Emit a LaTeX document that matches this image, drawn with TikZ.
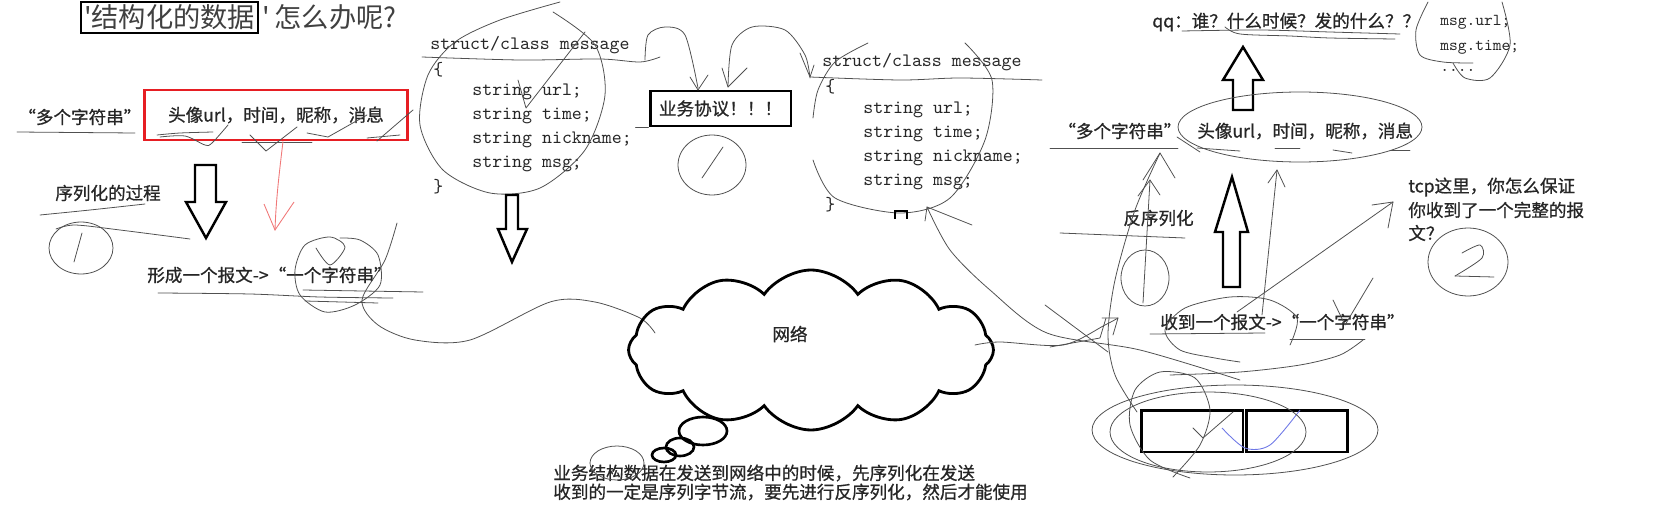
\documentclass[tikz,border=0pt]{standalone}
\usepackage{fontspec}
\newfontfamily\cjk{Noto Sans CJK SC}[FakeBold=0.8]
\newfontfamily\cjktitle{Noto Sans CJK SC}
\usetikzlibrary{arrows.meta,positioning,shapes.symbols}
\definecolor{boxred}{RGB}{230,30,35}
\definecolor{pencil}{RGB}{80,80,80}
\definecolor{redpen}{RGB}{240,120,120}
\definecolor{bluepen}{RGB}{110,120,230}

\tikzset{
  word/.style={inner sep=0pt,anchor=west,text=black!85,font=\cjk\fontsize{10}{12}\selectfont},
  code/.style={inner sep=0pt,anchor=west,text=black!85,font=\ttfamily\fontsize{10.8}{13}\selectfont\addfontfeature{FakeBold=0.6}},
  pen/.style={pencil,line width=0.45pt,line cap=round,line join=round},
  fatbox/.style={draw,line width=1.7pt,inner sep=0pt},
  fatarrow/.style={draw,line width=1.4pt,line join=miter,fill=white},
}

\begin{document}
\begin{tikzpicture}[x=0.02cm,y=-0.02cm]
\useasboundingbox (0,0) rectangle (1674,510);

% title
\node[fatbox,line width=1.5pt,minimum width=3.54cm,minimum height=0.62cm,font=\cjktitle\fontsize{15.5}{18}\selectfont,text=black!75] (title) at (169.5,17.5) {'结构化的数据};
\node[inner sep=0pt,anchor=west,font=\cjktitle\fontsize{15.5}{18}\selectfont,text=black!75] (titletail) at ([xshift=0.06cm]title.east) {'\,怎么办呢?};

% sender side
\node[word] (multistr) at (18,117) {“多个字符串”};
\draw[pen] (17,132) -- (135,133);
\node[draw=boxred,line width=1.7pt,inner sep=0pt,minimum width=5.28cm,minimum height=1cm,text=black!85,font=\cjk\fontsize{10}{12}\selectfont] (fields) at (276,115) {头像url，时间，昵称，消息};
\draw[pen] plot[smooth] coordinates {(157,135) (180,133) (213,132)};
\draw[pen] plot[smooth] coordinates {(160,137) (185,136) (205,145) (212,143) (228,125)};
\draw[pen] (242,142) -- (312,142);
\draw[pen] (250,135) -- (266,151) -- (297,127);
\draw[pen] (307,133) -- (328,137) -- (367,115);
\draw[pen] (367,138) -- (400,135);
\draw[pen] (377,141) -- (413,110);
\coordinate (redtip) at (275,230);
\draw[redpen,line width=0.5pt] ([xshift=0.14cm]fields.south) .. controls (279,175) and (276,200) .. (redtip);
\draw[redpen,line width=0.5pt] (264,204) -- (redtip) -- (294,202);

\draw[fatarrow] (195,165) -- (216,165) -- (216,202) -- (226,202) -- (206,238) -- (186,202) -- (195,202) -- cycle;

\node[word] (serial) at (55,193) {序列化的过程};
\draw[pen] plot[smooth] coordinates {(40,215) (90,210) (145,204)};
\draw[pen] (81,248) ellipse [x radius=0.64cm, y radius=0.52cm];
\draw[pen] (74,262) -- (82,233);
\draw[pen] plot[smooth] coordinates {(56,229) (75,225) (120,230) (190,239)};

\node[word] (packet) at (147,275) {形成一个报文->“一个字符串”};
\draw[pen] plot[smooth] coordinates {(158,293) (250,294) (320,297) (393,298)};
\draw[pen] (303,290) -- (423,292);
\draw[pen] (305,301) -- (378,303);
\draw[pen] plot[smooth] coordinates {(316,248) (330,265) (345,247) (330,237) (305,245) (295,270) (300,295) (325,312) (355,305) (380,285) (378,255) (360,240) (340,238)};
\draw[pen] plot[smooth] coordinates {(397,223) (385,260) (362,300) (378,325) (415,340) (470,340) (550,302) (595,302) (640,318) (655,333)};

% struct on the sender side
\node[code] (s1head) at (430,45) {struct/class message};
\node[code] (s1open) at (433,70) {\{};
\node[code] (s1url) at (472,92) {string url;};
\node[code] (s1time) at (472,116) {string time;};
\node[code] (s1nick) at (472,140) {string nickname;};
\node[code] (s1msg) at (472,164) {string msg;};
\node[code] (s1close) at (433,187) {\}};
\draw[pen] plot[smooth] coordinates {(553,12) (595,45) (605,95) (585,150) (540,188) (490,193) (443,170) (420,125) (428,75) (455,42) (500,20) (560,2)};
\draw[pen] (585,32) -- (526,108) -- (518,80);
\draw[pen] plot[smooth] coordinates {(422,57) (520,60) (600,59) (640,62) (660,57)};
\draw[fatarrow] (506,195) -- (518,195) -- (518,229) -- (527,229) -- (512,262) -- (498,229) -- (506,229) -- cycle;

% protocol
\node[fatbox,minimum width=2.82cm,minimum height=0.7cm,text=black!85,font=\cjk\fontsize{10}{12}\selectfont] (proto) at (720.5,108.5) {业务协议！！！};
\draw[pen] (proto.south west) -- ++(-13,0);
\draw[pen] plot[smooth] coordinates {(645,60) (648,35) (665,27) (685,35) (698,88)};
\draw[pen] (690,77) -- (698,90) -- (708,75);
\draw[pen] plot[smooth] coordinates {(728,87) (732,45) (752,27) (785,30) (805,55) (810,78)};
\draw[pen] (722,68) -- (728,87) -- (747,68);
\draw[pen] (800,53) -- (810,77) -- (814,65);
\draw[pen] (712,165) ellipse [x radius=0.68cm, y radius=0.6cm];
\draw[pen] (702,178) -- (723,147);

% struct on the receiver side
\node[code] (s2head) at (822,62) {struct/class message};
\node[code] (s2open) at (825,87) {\{};
\node[code] (s2url) at (863,110) {string url;};
\node[code] (s2time) at (863,134) {string time;};
\node[code] (s2nick) at (863,158) {string nickname;};
\node[code] (s2msg) at (863,182) {string msg;};
\node[code] (s2close) at (825,205) {\}};
\draw[pen] plot[smooth] coordinates {(868,43) (835,62) (818,90) (813,118)};
\draw[pen] plot[smooth] coordinates {(813,160) (835,198) (900,213) (950,198) (985,140) (992,80) (965,43)};
\draw[pen] plot[smooth] coordinates {(810,77) (900,80) (960,78) (1042,80)};
\draw[line width=1.5pt] (895,219) -- (895,211) -- (907,211) -- (907,219);

% network
\node[cloud,draw,line width=1.6pt,cloud puffs=12,cloud puff arc=110,aspect=2.3,minimum width=7.3cm,minimum height=3.2cm] (net) at (811,350) {};
\node[word,anchor=center] (netlabel) at (790,334) {网络};
\draw[line width=1.5pt] (703,431) ellipse [x radius=0.48cm, y radius=0.28cm];
\draw[line width=1.5pt] (680,447) ellipse [x radius=0.28cm, y radius=0.18cm];
\draw[line width=1.5pt] (664,455) ellipse [x radius=0.24cm, y radius=0.14cm];
\node[word] (note1) at (553,473) {业务结构数据在发送到网络中的时候，先序列化在发送};
\node[word] (note2) at (553,492) {收到的一定是序列字节流，要先进行反序列化，然后才能使用};
\draw[pen] (617,463) ellipse [x radius=0.54cm, y radius=0.34cm];

% strokes toward the receiver
\draw[pen] plot[smooth] coordinates {(927,207) (950,250) (990,290) (1047,333) (1140,350) (1240,380)};
\draw[pen] (925,221) -- (927,207) -- (972,225);
\draw[pen] plot[smooth] coordinates {(975,345) (1000,342) (1063,345) (1105,325) (1118,318)};
\draw[pen] (1102,318) -- (1118,318) -- (1113,335);
\draw[pen] (1045,305) -- (1108,352);
\draw[pen] (1050,347) -- (1100,338) -- (1106,318);

% receiver side
\node[word] (qq) at (1152,22) {qq：谁？什么时候？发的什么？？};
\draw[pen] plot[smooth] coordinates {(1182,31) (1260,30) (1330,32) (1400,34)};
\draw[pen] plot[smooth] coordinates {(1225,27) (1240,34) (1290,36) (1330,38) (1395,39)};
\node[code,font=\ttfamily\fontsize{9.5}{12}\selectfont\addfontfeature{FakeBold=0.6}] (murl) at (1440,22) {msg.url;};
\node[code,font=\ttfamily\fontsize{9.5}{12}\selectfont\addfontfeature{FakeBold=0.6}] (mtime) at (1440,47) {msg.time;};
\node[code,font=\ttfamily\fontsize{9.5}{12}\selectfont\addfontfeature{FakeBold=0.6}] (mdots) at (1440,70) {....};
\draw[pen] plot[smooth] coordinates {(1428,2) (1416,30) (1420,55) (1443,62) (1473,63)};
\draw[pen] plot[smooth] coordinates {(1453,63) (1465,78) (1490,78) (1510,45) (1502,2)};
\draw[fatarrow] (1233,110) -- (1253,110) -- (1253,80) -- (1263,80) -- (1243,47) -- (1223,80) -- (1233,80) -- cycle;

\node[word] (multistr2) at (1058,131) {“多个字符串”};
\draw[pen] (1050,148) -- (1178,148);
\draw[pen] (1177,137) -- (1200,152);
\node[word] (fields2) at (1197,131) {头像url，时间，昵称，消息};
\draw[pen] (1300,127) ellipse [x radius=2.44cm, y radius=0.7cm];
\draw[pen] (1197,148) -- (1240,151);
\draw[pen] (1275,148) -- (1300,148);
\draw[pen] (1333,150) -- (1352,153);
\draw[pen] (1390,150) -- (1410,150);

\node[word] (deserial) at (1123,218) {反序列化};
\draw[pen] (1060,233) -- (1185,238);
\draw[pen] (1145,278) ellipse [x radius=0.48cm, y radius=0.56cm];
\draw[pen] plot[smooth] coordinates {(1137,412) (1115,375) (1108,335) (1115,280) (1135,210) (1160,153)};
\draw[pen] (1143,180) -- (1160,153) -- (1175,178);
\draw[pen] (1143,303) -- (1150,180);
\draw[pen] (1138,196) -- (1150,180) -- (1160,195);
\draw[fatarrow] (1223,287) -- (1240,287) -- (1240,232) -- (1248,232) -- (1232,177) -- (1215,232) -- (1223,232) -- cycle;

\node[word] (recv) at (1160,322) {收到一个报文->“一个字符串”};
\draw[pen] (1150,334) -- (1265,333);
\draw[pen] (1290,339) -- (1365,339);
\draw[pen] plot[smooth] coordinates {(1290,345) (1297,318) (1270,300) (1230,297) (1185,308) (1165,330) (1180,350) (1215,358) (1240,362)};
\draw[pen] (1237,312) -- (1393,202);
\draw[pen] (1372,205) -- (1393,202) -- (1388,228);
\draw[pen] (1262,315) -- (1277,170);
\draw[pen] (1268,183) -- (1277,170) -- (1285,187);
\draw[pen] (1333,300) -- (1345,325) -- (1373,278);
\draw[pen] plot[smooth] coordinates {(1363,340) (1340,355) (1300,365) (1240,372) (1170,375)};

\node[word] (tcp1) at (1408,187) {tcp这里，你怎么保证};
\node[word] (tcp2) at (1408,210) {你收到了一个完整的报};
\node[word] (tcp3) at (1408,233) {文？};
\draw[pen] (1468,262) ellipse [x radius=0.8cm, y radius=0.68cm];
\draw[pen] plot[smooth] coordinates {(1462,253) (1480,245) (1482,258) (1455,276)};
\draw[pen] (1455,276) -- (1494,277);

% received bytes
\node[fatbox,minimum width=2.04cm,minimum height=0.84cm] (buf1) at (1192,431) {};
\node[fatbox,minimum width=2.02cm,minimum height=0.84cm,right=0.02cm of buf1] (buf2) {};
\draw[pen] (1193,428) -- (1203,438) -- (1233,412);
\draw[bluepen,line width=0.5pt] plot[smooth] coordinates {(1222,428) (1245,448) (1270,445) (1300,410)};
\draw[pen] (1235,430) ellipse [x radius=2.86cm, y radius=0.9cm];
\draw[pen] (1208,432) ellipse [x radius=1.96cm, y radius=0.8cm];
\draw[pen] plot[smooth] coordinates {(1173,477) (1200,445) (1210,410) (1195,378) (1160,372) (1135,390) (1130,425) (1150,460) (1190,478)};
\end{tikzpicture}
\end{document}
